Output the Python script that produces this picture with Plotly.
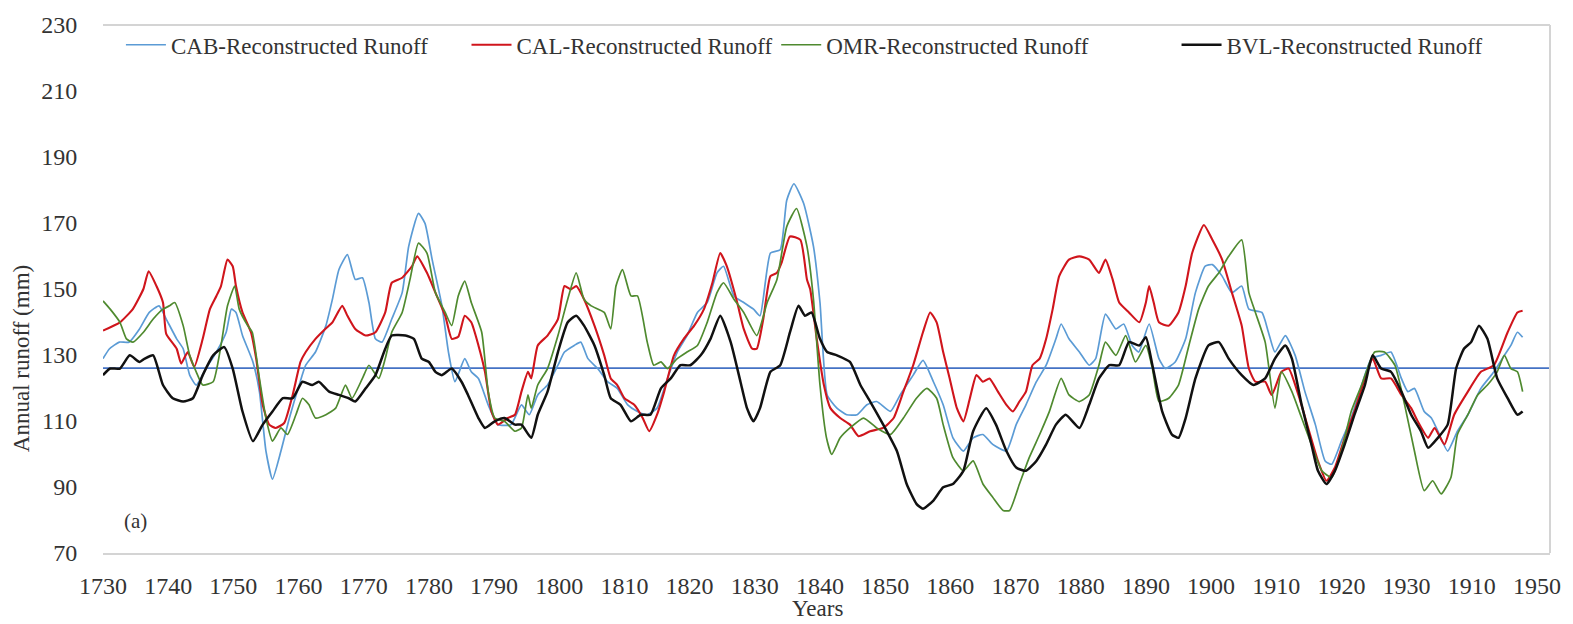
import plotly.graph_objects as go

# Reconstructed annual runoff (mm), smoothed series
cab_years = [1730, 1731, 1732.5, 1734, 1735.6, 1737.1, 1738.6, 1739.7, 1741.3, 1742.3, 1743.3, 1744.3, 1745.8, 1747.4, 1748.9, 1749.7, 1750.4, 1751.4, 1753, 1754, 1755, 1756, 1757.3, 1758.6, 1760.1, 1761.1, 1762.6, 1764.2, 1765.2, 1766.2, 1767.5, 1768.7, 1769.8, 1770.8, 1771.8, 1772.8, 1774.3, 1775.9, 1776.9, 1778.4, 1779.4, 1780.5, 1782, 1783, 1784,
             1785.5, 1786.5, 1787.6, 1789.1, 1790.6, 1792.6, 1794.2, 1795.4, 1796.7, 1798.2, 1799.8, 1800.8, 1802.3, 1803.3, 1804.4, 1805.9, 1807.4, 1808.9, 1810.5, 1812, 1813.5, 1815, 1816.6, 1818.1, 1819.6, 1821.2, 1822.7, 1824.2, 1825.2, 1826.8, 1828.3, 1829.8, 1830.8, 1832.4, 1833.9, 1834.9, 1836, 1837.5, 1839, 1840,
             1841.1, 1842.6, 1844.1, 1845.7, 1847.2, 1848.7, 1850.8, 1852.3, 1854.3, 1855.8, 1857.4, 1858.9, 1860.4, 1862, 1863.5, 1865, 1866.5, 1868.6, 1870.1, 1871.6, 1873.2, 1874.7, 1876.2, 1877, 1878.2, 1879.8, 1881.3, 1882.3, 1883.8, 1885.4, 1886.6, 1887.9, 1888.9, 1890.5, 1892, 1893, 1894.5,
             1896.1, 1897.6, 1899.1, 1900.2, 1901.7, 1903.2, 1904.7, 1905.8, 1907.8, 1908.8, 1909.8, 1911.4, 1912.9, 1914.4, 1916, 1917.5, 1918.5, 1920, 1921.5, 1923.1, 1924.6, 1926.1, 1927.6, 1929.2, 1930.2, 1931.2, 1932.7, 1933.8, 1934.8, 1936.3, 1937.8, 1939.4, 1941.4, 1943.4, 1945, 1946, 1947, 1947.8]
cab_runoff = [128.9, 131.9, 133.9, 133.9, 137.9, 142.9, 144.9, 140.9, 134.9, 131.9, 123.9, 120.9, 125.9, 130.9, 136.9, 143.9, 142.9, 135.9, 127.9, 118.9, 100.9, 92.4, 100.9, 110.9, 120.9, 126.9, 130.9, 138.9, 146.9, 155.9, 160.4, 152.9, 153.4, 145.9, 134.9, 133.9, 140.9, 148.9, 162.9, 172.9, 169.9, 158.9, 144.9, 130.9, 121.9,
              128.9, 124.9, 122.9, 114.9, 108.9, 108.9, 114.9, 111.9, 117.9, 120.9, 126.9, 130.9, 132.9, 133.9, 128.9, 125.9, 121.9, 119.9, 114.9, 112.9, 111.9, 113.9, 122.9, 130.9, 135.9, 142.9, 145.9, 154.9, 156.9, 147.9, 145.9, 143.9, 141.9, 160.9, 161.9, 176.9, 181.9, 175.9, 162.9, 145.9,
              117.9, 113.9, 111.9, 111.9, 114.9, 115.9, 112.9, 117.9, 123.9, 128.4, 121.9, 114.9, 104.9, 100.9, 104.9, 105.9, 102.9, 100.9, 108.9, 114.9, 121.9, 126.9, 134.9, 139.4, 134.9, 130.9, 126.9, 128.9, 142.4, 137.9, 139.4, 132.9, 130.9, 139.4, 128.9, 125.9, 127.9,
              134.9, 148.9, 156.9, 157.4, 153.9, 148.9, 150.9, 143.9, 142.9, 136.9, 130.9, 135.9, 129.9, 118.9, 108.9, 97.9, 96.9, 103.9, 110.9, 120.9, 128.9, 129.9, 130.9, 122.9, 118.9, 119.9, 112.9, 110.9, 106.9, 100.9, 106.9, 111.9, 119.9, 124.9, 129.9, 132.9, 136.9, 135.4]

cal_years = [1730, 1732.6, 1734.6, 1736.2, 1737, 1738.2, 1739.2, 1739.7, 1741.3, 1742, 1743, 1744, 1745.3, 1746.4, 1747.4, 1748.1, 1749.1, 1749.9, 1750.4, 1751.4, 1752.7, 1753.5, 1754.5, 1755.5, 1756.5, 1757.8, 1759.1, 1760.3, 1761.1, 1762.6, 1764.1, 1765.2, 1766.7, 1767.5, 1768.7, 1770.3, 1771.8, 1773.3, 1774.3, 1775.9, 1777.4, 1778.2, 1779.7, 1781, 1782.5, 1783.5, 1784.5,
             1785.5, 1786.5, 1787.6, 1788.6, 1789.6, 1790.6, 1792.1, 1793.2, 1794.2, 1795.2, 1795.7, 1796.7, 1798.2, 1799.8, 1800.8, 1801.8, 1802.6, 1803.8, 1805.4, 1806.9, 1807.9, 1808.9, 1810, 1811.5, 1812.8, 1813.8, 1815, 1816.1, 1817.6, 1819.1, 1820.7, 1822.2, 1823.5, 1824.7, 1825.7, 1827.3, 1828.3, 1829.6, 1830.3, 1831.3, 1832.4, 1833.4, 1834.1, 1835.4, 1837, 1838, 1838.5, 1839.5,
             1840.6, 1841.6, 1843.1, 1844.6, 1845.9, 1847.7, 1849.7, 1851.3, 1852.8, 1854.3, 1855.8, 1856.9, 1857.9, 1858.9, 1859.9, 1861, 1862, 1863, 1864, 1865, 1866, 1867.3, 1868.6, 1869.6, 1870.6, 1871.6, 1872.6, 1873.7, 1874.7, 1875.7, 1876.7, 1878.2, 1879.8, 1881.3, 1882.8, 1883.8, 1884.9, 1885.9, 1887.4, 1889, 1890, 1890.5, 1891.2, 1892, 1893.5, 1895,
             1896.1, 1897.1, 1898.9, 1900.2, 1901.7, 1903.2, 1904.7, 1905.8, 1906.8, 1908.3, 1909.3, 1910.8, 1911.9, 1913.4, 1914.9, 1916.4, 1917.7, 1919, 1920.5, 1922, 1923.6, 1924.8, 1926.1, 1927.6, 1929.2, 1930.7, 1931.7, 1933.3, 1934.3, 1935.8, 1937.3, 1939.4, 1941.4, 1943.4, 1945.5, 1947, 1947.8]
cal_runoff = [137.4, 139.9, 144.0, 150.0, 155.4, 150.9, 145.9, 136.4, 131.9, 127.4, 130.9, 126.4, 134.9, 143.9, 147.9, 150.9, 158.9, 156.9, 150.9, 142.9, 136.9, 128.9, 114.9, 108.9, 107.9, 109.4, 117.9, 127.9, 130.9, 134.9, 137.9, 139.9, 144.9, 141.9, 137.9, 135.9, 136.9, 142.9, 151.9, 153.4, 156.9, 159.9, 154.9, 148.9, 141.9, 134.9, 135.5,
              141.9, 139.9, 132.9, 124.9, 112.9, 108.9, 110.9, 111.9, 118.9, 124.9, 122.9, 132.9, 135.9, 140.9, 150.9, 149.9, 150.9, 146.9, 138.9, 129.9, 122.9, 120.9, 116.9, 114.9, 110.9, 106.9, 111.9, 118.9, 129.9, 134.9, 138.9, 143.9, 151.9, 160.9, 156.9, 145.9, 137.9, 131.9, 131.9, 140.9, 153.9, 154.9, 157.9, 165.9, 164.9, 152.9, 149.9, 134.9,
              120.9, 113.9, 110.9, 108.9, 105.4, 106.9, 107.9, 110.9, 118.9, 126.9, 136.9, 142.9, 139.9, 130.9, 122.9, 113.9, 109.9, 116.9, 123.9, 121.9, 122.9, 118.9, 114.9, 112.9, 115.9, 118.9, 126.9, 128.9, 134.9, 143.9, 153.9, 158.9, 159.9, 158.9, 154.9, 158.9, 152.9, 145.9, 142.9, 139.9, 145.9, 150.9, 145.9, 139.9, 138.9, 142.9,
              150.9, 160.9, 169.4, 164.9, 158.9, 148.9, 138.9, 125.9, 121.9, 121.9, 117.9, 124.9, 125.9, 117.9, 107.9, 97.9, 91.9, 95.9, 104.9, 112.9, 122.9, 128.9, 122.9, 122.9, 117.9, 113.9, 109.9, 104.9, 107.9, 102.9, 111.9, 118.9, 124.9, 126.9, 136.9, 142.9, 143.4]

omr_years = [1730, 1731.1, 1732.6, 1733.6, 1734.6, 1736.2, 1737.7, 1739.2, 1740.2, 1741, 1742.3, 1743.3, 1744.3, 1745.3, 1746.9, 1748.1, 1749.1, 1750.2, 1750.9, 1752.2, 1752.9, 1754, 1755, 1756, 1757.3, 1758.3, 1759.6, 1760.6, 1761.6, 1762.6, 1764.2, 1765.7, 1767.2, 1768.2, 1769.8, 1770.8, 1772.3, 1773.3, 1774.3, 1775.9, 1777.1, 1778.4, 1779.7, 1781, 1782.5, 1783.5, 1784.5,
             1785.5, 1786.5, 1788.1, 1789.1, 1790.1, 1791.6, 1793.2, 1794.2, 1795.2, 1795.7, 1796.7, 1798.2, 1799.8, 1801.3, 1802.6, 1803.8, 1804.9, 1806.9, 1807.9, 1808.7, 1809.7, 1811, 1812, 1813.5, 1814.5, 1815.6, 1816.6, 1818.1, 1819.6, 1821.2, 1822.7, 1824.2, 1825.2, 1826.8, 1828.3, 1830.3, 1831.9, 1833.4, 1834.9, 1836.4, 1838, 1839, 1840, 1841,
             1841.8, 1843.1, 1844.6, 1846.7, 1848.7, 1850.8, 1852.8, 1854.8, 1856.4, 1857.9, 1858.9, 1860.4, 1862, 1863.5, 1865, 1866.5, 1868.1, 1869.1, 1870.6, 1872.1, 1873.7, 1875.2, 1877, 1878.2, 1879.8, 1881.3, 1882.8, 1883.8, 1885.4, 1886.9, 1888.4, 1890, 1891, 1892, 1893.5, 1895,
             1896.6, 1898.1, 1899.6, 1901.2, 1902.7, 1904.7, 1905.8, 1906.8, 1908.3, 1909.8, 1910.8, 1912.4, 1913.9, 1915.4, 1917, 1918.5, 1920, 1921.5, 1923.1, 1925.1, 1926.6, 1928.2, 1929.7, 1931.2, 1932.7, 1934, 1935.3, 1936.8, 1937.8, 1939.4, 1940.9, 1942.4, 1943.9, 1945, 1946, 1947, 1947.8]
omr_runoff = [146.4, 143.9, 139.9, 134.9, 133.9, 136.9, 140.9, 143.9, 144.9, 145.9, 138.9, 129.9, 124.9, 120.9, 121.9, 132.9, 144.9, 150.9, 143.9, 138.9, 136.9, 122.9, 110.9, 103.9, 107.9, 105.9, 111.9, 116.9, 114.9, 110.9, 111.9, 113.9, 120.9, 116.9, 122.9, 126.9, 122.9, 128.9, 136.9, 142.9, 152.9, 163.9, 160.9, 148.9, 142.9, 138.9, 147.9,
              152.4, 145.9, 136.9, 118.9, 110.9, 109.9, 106.9, 107.9, 117.9, 113.9, 120.9, 125.9, 135.9, 146.9, 154.9, 146.9, 144.9, 142.9, 137.9, 150.9, 155.9, 147.9, 147.9, 133.9, 126.9, 127.9, 125.9, 128.9, 130.9, 132.9, 139.9, 148.9, 151.9, 146.9, 142.9, 135.9, 145.9, 152.9, 168.9, 174.4, 162.9, 146.9, 120.9, 104.9,
              99.9, 104.9, 107.9, 110.9, 107.9, 105.9, 110.9, 116.9, 119.9, 116.9, 108.9, 98.9, 94.9, 97.9, 90.9, 86.9, 82.9, 82.9, 90.9, 98.9, 105.9, 112.9, 122.9, 117.9, 115.9, 117.9, 126.9, 133.9, 129.9, 135.9, 127.9, 132.9, 125.9, 115.9, 116.9, 120.9,
              132.9, 143.9, 150.9, 154.9, 159.9, 164.9, 148.9, 142.9, 133.9, 113.9, 124.9, 118.9, 110.9, 102.9, 94.9, 92.9, 100.9, 112.9, 120.9, 130.9, 130.9, 126.9, 114.9, 100.9, 88.9, 91.9, 87.9, 92.9, 105.9, 111.9, 117.9, 120.9, 124.9, 129.9, 125.9, 124.9, 118.9]

bvl_years = [1730, 1731.1, 1732.6, 1734.1, 1735.6, 1736.4, 1737.7, 1739.2, 1740.7, 1742.3, 1743.8, 1745.3, 1746.9, 1748.6, 1749.9, 1751.4, 1753, 1754.5, 1756, 1757.6, 1759.1, 1760.6, 1762.1, 1763.1, 1764.7, 1766.2, 1767.7, 1768.7, 1770.3, 1771.8, 1773.3, 1774.3, 1776.4, 1777.7, 1778.9, 1780, 1781, 1782, 1783.5, 1785,
             1786, 1787.6, 1788.6, 1790.1, 1791.6, 1793.2, 1794.2, 1795.7, 1796.7, 1798.2, 1799.8, 1801.3, 1802.6, 1803.8, 1805.4, 1806.9, 1807.9, 1809.4, 1811, 1812.5, 1814, 1815.6, 1817.1, 1818.6, 1820.1, 1821.7, 1823.2, 1824.7, 1826.3, 1827.8, 1828.8, 1829.8, 1830.8, 1832.4, 1833.9, 1835.4, 1836.7, 1837.7, 1838.7, 1840,
             1841.1, 1842.6, 1844.6, 1846.2, 1847.7, 1849.7, 1851.8, 1853.3, 1854.8, 1855.8, 1857.4, 1858.9, 1860.4, 1862, 1863.5, 1865.5, 1867, 1868.6, 1870.1, 1871.6, 1873.2, 1874.7, 1876.2, 1877.7, 1879.8, 1881.3, 1882.8, 1884.4, 1885.9, 1887.4, 1889, 1890, 1891, 1892.5, 1894, 1895,
             1896.1, 1897.6, 1899.6, 1901.2, 1902.7, 1904.7, 1906.5, 1908.3, 1909.8, 1911.4, 1912.4, 1913.9, 1915.4, 1916.4, 1917.7, 1919, 1920.5, 1922, 1923.6, 1924.8, 1926.1, 1927.6, 1929.2, 1930.7, 1932.2, 1933.3, 1934.8, 1936.3, 1937.6, 1938.8, 1939.9, 1941.1, 1942.4, 1943.9, 1945.5, 1947, 1947.8]
bvl_runoff = [123.9, 125.9, 125.9, 129.9, 127.9, 128.9, 129.9, 120.9, 116.9, 115.9, 116.9, 123.9, 129.9, 132.4, 125.9, 112.9, 103.9, 108.9, 112.9, 116.9, 116.9, 121.9, 120.9, 121.9, 118.9, 117.9, 116.9, 115.9, 119.9, 123.9, 131.9, 135.9, 135.9, 134.9, 128.9, 127.9, 124.9, 123.9, 125.9, 121.9,
              117.9, 110.9, 107.9, 109.9, 110.9, 108.9, 108.9, 104.9, 111.9, 118.9, 130.9, 139.9, 141.9, 138.9, 132.9, 123.9, 116.9, 114.9, 109.9, 111.9, 111.9, 119.9, 122.9, 126.9, 126.9, 129.9, 134.9, 141.9, 133.9, 121.9, 113.9, 109.9, 113.9, 124.9, 126.9, 136.9, 144.9, 141.9, 142.9, 134.9,
              130.9, 129.9, 127.9, 120.9, 115.9, 108.9, 100.9, 90.9, 84.9, 83.4, 85.9, 89.9, 90.9, 94.9, 106.9, 113.9, 108.9, 100.9, 95.9, 94.9, 97.9, 102.9, 108.9, 111.9, 107.9, 114.9, 122.9, 126.9, 126.9, 133.9, 132.9, 135.4, 126.9, 112.9, 105.9, 104.9,
              110.9, 122.9, 132.9, 133.9, 128.9, 123.9, 120.9, 122.9, 128.9, 132.9, 128.9, 114.9, 102.9, 94.9, 90.9, 94.9, 102.9, 111.9, 120.9, 129.9, 125.9, 124.9, 118.9, 111.9, 106.9, 101.9, 104.9, 108.9, 125.9, 131.9, 133.9, 138.9, 134.9, 122.9, 116.9, 111.9, 112.9]

mean_runoff = 126.0
x_ticks = list(range(1730, 1951, 10))
x_tick_text = ["1730", "1740", "1750", "1760", "1770", "1780", "1790", "1800", "1810", "1820", "1830",
               "1840", "1850", "1860", "1870", "1880", "1890", "1900", "1910", "1920", "1930", "1910", "1950"]
y_ticks = list(range(70, 231, 20))

FONT = "Liberation Serif, Times New Roman, serif"
TEXT = "#333333"
FRAME = "#d4d4d4"

series = [
    ("CAB-Reconstructed Runoff", cab_years, cab_runoff, "#5b9bd5", 1.7, "legend"),
    ("CAL-Reconstructed Runoff", cal_years, cal_runoff, "#d0151c", 2.1, "legend2"),
    ("OMR-Reconstructed Runoff", omr_years, omr_runoff, "#4f8a2f", 1.7, "legend3"),
    ("BVL-Reconstructed Runoff", bvl_years, bvl_runoff, "#111111", 2.5, "legend4"),
]

fig = go.Figure()

# long-term mean reference line
fig.add_trace(go.Scatter(x=[1730, 1952], y=[mean_runoff, mean_runoff], mode="lines",
                         line=dict(color="#4472c4", width=1.8), showlegend=False, hoverinfo="skip"))

for name, xs, ys, color, width, lg in series:
    fig.add_trace(go.Scatter(x=xs, y=ys, mode="lines", name=name, legend=lg,
                             line=dict(color=color, width=width, shape="spline", smoothing=0.5)))

# plot-area geometry in pixels
W, H = 1573, 624
L, R, T, B = 103, 1556, 20, 553
pw, ph = R - L, B - T


def lx(px):
    return (px - L) / pw


def ly(py):
    return (B - py) / ph


legend_style = dict(orientation="h", xanchor="left", yanchor="middle", y=ly(40),
                    bgcolor="rgba(0,0,0,0)", borderwidth=0, itemwidth=40,
                    font=dict(family=FONT, size=23, color=TEXT))
legend_x = [121, 468, 779, 1181]

fig.update_layout(
    width=W, height=H,
    margin=dict(l=L, r=W - R, t=T, b=H - B),
    paper_bgcolor="white", plot_bgcolor="white",
    font=dict(family=FONT, size=22, color=TEXT),
    showlegend=True,
    legend=dict(x=lx(legend_x[0]), **legend_style),
    legend2=dict(x=lx(legend_x[1]), **legend_style),
    legend3=dict(x=lx(legend_x[2]), **legend_style),
    legend4=dict(x=lx(legend_x[3]), **legend_style),
    xaxis=dict(range=[1730, 1952], tickvals=x_ticks, ticktext=x_tick_text,
               showgrid=False, zeroline=False, showline=True, linecolor=FRAME, linewidth=1.5,
               ticks="outside", ticklen=10, tickcolor="rgba(0,0,0,0)",
               tickfont=dict(family=FONT, size=24, color=TEXT)),
    yaxis=dict(range=[70, 230], tickvals=y_ticks, showgrid=False, zeroline=False,
               showline=False, ticks="outside", ticklen=20, tickcolor="rgba(0,0,0,0)",
               tickfont=dict(family=FONT, size=24, color=TEXT)),
    shapes=[
        dict(type="line", xref="paper", yref="paper", x0=0, x1=1, y0=1, y1=1,
             line=dict(color=FRAME, width=2)),
        dict(type="line", xref="paper", yref="paper", x0=1, x1=1, y0=0, y1=1,
             line=dict(color=FRAME, width=2)),
    ],
    annotations=[
        dict(text="Annual runoff (mm)", xref="paper", yref="paper", x=(22 - L) / pw, y=ly(357),
             textangle=-90, showarrow=False, xanchor="center", yanchor="middle",
             font=dict(family=FONT, size=23, color=TEXT)),
        dict(text="Years", xref="paper", yref="paper", x=lx(820), y=ly(609),
             showarrow=False, xanchor="center", yanchor="middle",
             font=dict(family=FONT, size=23, color=TEXT)),
        dict(text="(a)", xref="paper", yref="paper", x=lx(136), y=ly(521),
             showarrow=False, xanchor="center", yanchor="middle",
             font=dict(family=FONT, size=21, color=TEXT)),
    ],
)

fig.write_html("out.html")
